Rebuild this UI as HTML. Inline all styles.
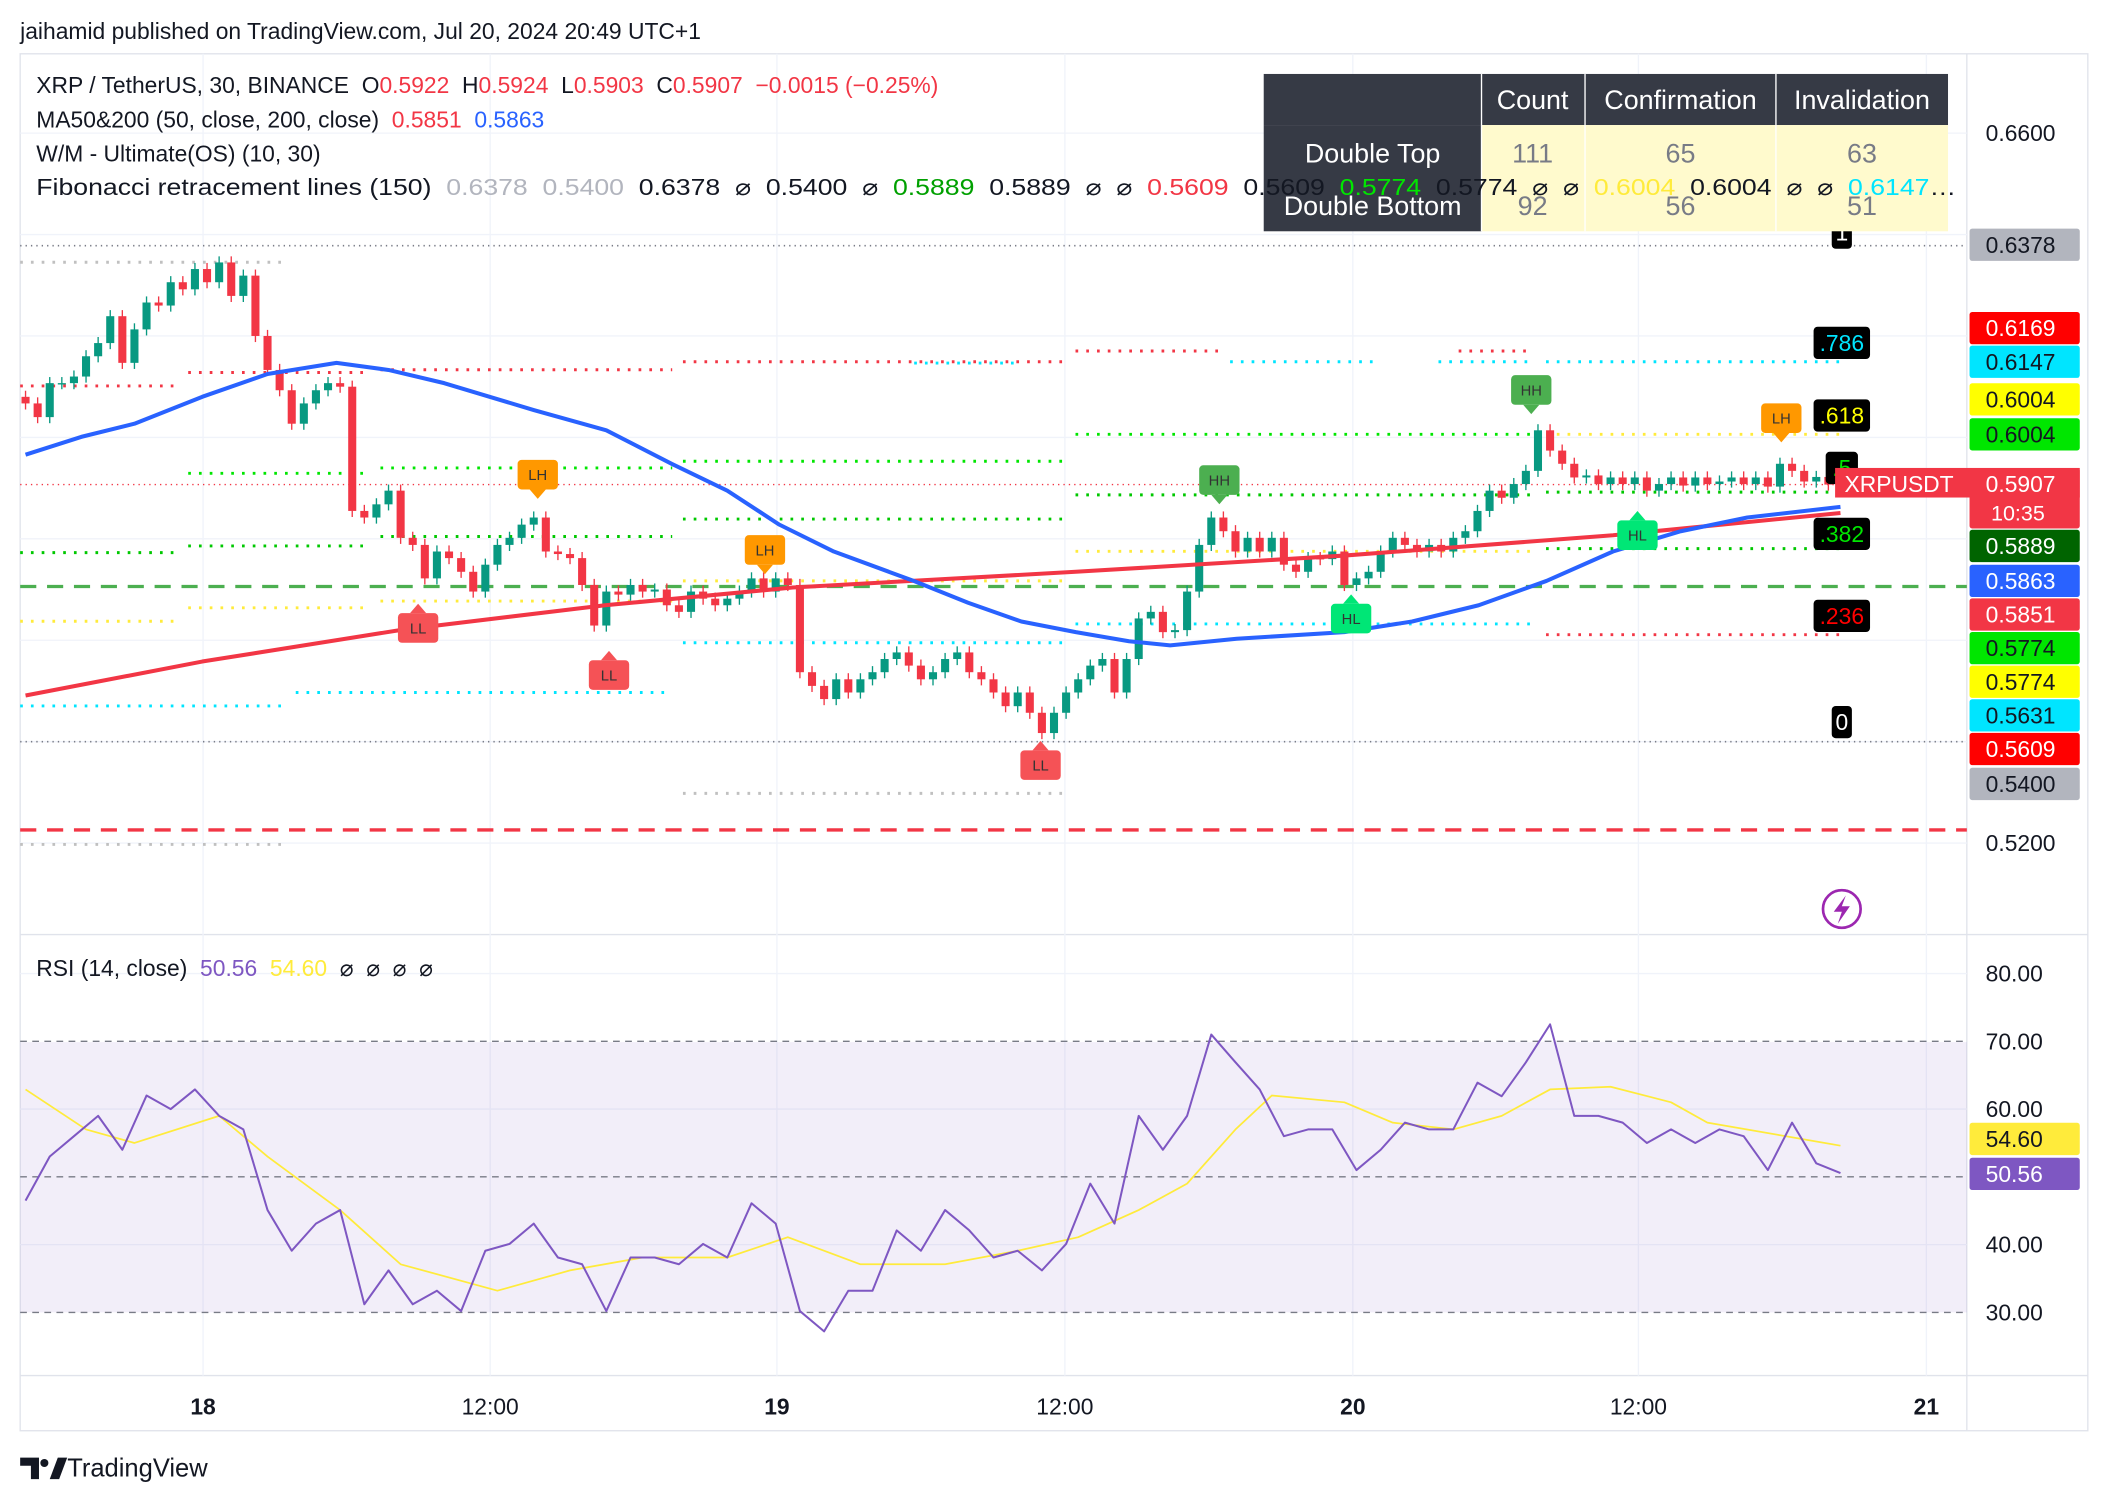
<!DOCTYPE html>
<html><head><meta charset="utf-8"><style>
html,body{margin:0;padding:0;background:#fff;}
svg{display:block;font-family:"Liberation Sans",sans-serif;}
</style></head><body>
<svg id="chart" width="2108" height="1502" viewBox="0 0 1568 1117" preserveAspectRatio="none" xmlns="http://www.w3.org/2000/svg">
<rect x="0" y="0" width="1568" height="1117" fill="#fff"/>
<text x="15" y="29" font-size="17" fill="#131722">jaihamid published on TradingView.com, Jul 20, 2024 20:49 UTC+1</text>
<rect x="15" y="40" width="1538" height="1024" fill="none" stroke="#e0e3eb"/>
<line x1="1463" y1="40" x2="1463" y2="1064" stroke="#e0e3eb"/>
<line x1="15" y1="695" x2="1553" y2="695" stroke="#e0e3eb"/>
<line x1="15" y1="1023" x2="1553" y2="1023" stroke="#e0e3eb"/>
<g id="grid"></g>
<rect x="15" y="775" width="1448" height="201" fill="#7e57c2" fill-opacity="0.1"/>
<g id="fib"></g>
<g id="hlines"></g>
<g id="candles"></g>
<g id="mas"></g>
<g id="rsi"></g>
<g id="markers"></g>
<g id="axis"></g>
<g font-size="20">
<rect x="940" y="55" width="509" height="38" fill="#363a45"/>
<rect x="940" y="93" width="162" height="79" fill="#363a45"/>
<rect x="1102" y="93" width="347" height="79" fill="#fffacd"/>
<line x1="1102" y1="55" x2="1102" y2="172" stroke="#fff"/>
<line x1="1179" y1="55" x2="1179" y2="172" stroke="#fff"/>
<line x1="1321" y1="55" x2="1321" y2="172" stroke="#fff"/>
<text x="1140" y="81" fill="#fff" text-anchor="middle">Count</text>
<text x="1250" y="81" fill="#fff" text-anchor="middle">Confirmation</text>
<text x="1385" y="81" fill="#fff" text-anchor="middle">Invalidation</text>
<text x="1021" y="121" fill="#fff" text-anchor="middle">Double Top</text>
<text x="1021" y="160" fill="#fff" text-anchor="middle">Double Bottom</text>
<text x="1140" y="121" fill="#787b86" text-anchor="middle">111</text>
<text x="1250" y="121" fill="#787b86" text-anchor="middle">65</text>
<text x="1385" y="121" fill="#787b86" text-anchor="middle">63</text>
<text x="1140" y="160" fill="#787b86" text-anchor="middle">92</text>
<text x="1250" y="160" fill="#787b86" text-anchor="middle">56</text>
<text x="1385" y="160" fill="#787b86" text-anchor="middle">51</text>
</g>
<g font-size="17" fill="#131722">
<text x="27" y="69" xml:space="preserve">XRP / TetherUS, 30, BINANCE  O<tspan fill="#f23645">0.5922</tspan>  H<tspan fill="#f23645">0.5924</tspan>  L<tspan fill="#f23645">0.5903</tspan>  C<tspan fill="#f23645">0.5907</tspan>  <tspan fill="#f23645">−0.0015 (−0.25%)</tspan></text>
<text x="27" y="95" xml:space="preserve">MA50&amp;200 (50, close, 200, close)  <tspan fill="#f23645">0.5851</tspan>  <tspan fill="#2962ff">0.5863</tspan></text>
<text x="27" y="120">W/M - Ultimate(OS) (10, 30)</text>
<text x="27" y="145" textLength="1428" lengthAdjust="spacingAndGlyphs" xml:space="preserve">Fibonacci retracement lines (150)  <tspan fill="#b2b5be">0.6378  0.5400</tspan>  0.6378  ⌀  0.5400  ⌀  <tspan fill="#00a000">0.5889</tspan>  0.5889  ⌀  ⌀  <tspan fill="#f23645">0.5609</tspan>  0.5609  <tspan fill="#00e600">0.5774</tspan>  0.5774  ⌀  ⌀  <tspan fill="#ffeb3b">0.6004</tspan>  0.6004  ⌀  ⌀  <tspan fill="#00e5ff">0.6147</tspan>…</text>
<text x="27" y="726" xml:space="preserve">RSI (14, close)  <tspan fill="#7e57c2">50.56</tspan>  <tspan fill="#ffeb3b">54.60</tspan>  ⌀  ⌀  ⌀  ⌀</text>
</g>
<g><circle cx="1370" cy="676" r="14" fill="none" stroke="#9c27b0" stroke-width="2"/><path d="M1373 666 L1364 678 L1370 678 L1367 687 L1376 674 L1370 674 Z" fill="#9c27b0"/></g>
<g><path d="M15 1084 h14 v16 h-6 v-10 h-8z" fill="#131722"/><circle cx="33" cy="1088" r="3" fill="#131722"/><path d="M37 1100 l6 -16 h7 l-6 16z" fill="#131722"/><text x="50" y="1098" font-size="19" fill="#131722">TradingView</text></g>
<script>
const closes=[.6067,.6040,.6107,.6107,.6120,.6160,.6186,.6239,.6147,.6213,.6266,.6260,.6306,.6292,.6332,.6306,.6345,.6279,.6319,.6200,.6133,.6093,.6027,.6067,.6093,.6107,.6100,.5855,.5842,.5868,.5895,.5802,.5788,.5722,.5775,.5762,.5735,.5696,.5749,.5788,.5802,.5828,.5842,.5775,.5770,.5762,.5709,.5629,.5696,.5690,.5709,.5696,.5700,.5669,.5656,.5696,.5682,.5669,.5682,.5696,.5722,.5696,.5722,.5709,.5537,.5510,.5484,.5523,.5497,.5523,.5537,.5563,.5576,.5550,.5523,.5537,.5563,.5576,.5537,.5523,.5497,.5470,.5497,.5457,.5417,.5457,.5497,.5523,.5550,.5563,.5497,.5563,.5643,.5656,.5616,.5620,.5696,.5788,.5842,.5815,.5775,.5802,.5775,.5802,.5749,.5735,.5762,.5760,.5775,.5709,.5722,.5735,.5775,.5802,.5788,.5775,.5788,.5775,.5802,.5815,.5855,.5895,.5881,.5908,.5934,.6014,.5974,.5948,.5921,.5925,.5908,.5921,.5908,.5921,.5895,.5908,.5921,.5905,.5921,.5908,.5913,.5921,.5908,.5921,.5903,.5948,.5934,.5913,.5922,.5907];
const firstOpen=0.6080;
const ma200Idx=[0,14.6,31.2,47.9,63.4,86.8,109,131.2,150];
const ma200Val=[0.5491,0.5558,0.5621,0.5669,0.5704,0.5735,0.5767,0.5807,0.5851];
const ma50Idx=[0,4.6,9,14.6,20,25.7,30,34.6,42,48,53.4,58,62.3,66.8,73.4,77.9,82.3,86.8,91.2,94.6,100.1,109,114.6,120.1,125.7,131.2,136.8,142.3,150];
const ma50Val=[0.5966,0.6001,0.6027,0.6080,0.6125,0.6147,0.6133,0.6107,0.6054,0.6014,0.5948,0.5895,0.5828,0.5775,0.5717,0.5674,0.5637,0.5616,0.5598,0.5590,0.5603,0.5616,0.5637,0.5669,0.5717,0.5775,0.5815,0.5842,0.5863];
const rsiVals=[46.5,53,56,59,54,62,60,62.9,59,57,45.1,39.1,43.1,45.1,31.2,36.2,31.2,33.2,30.2,39.1,40.1,43.1,38.1,37.1,30.2,38.1,38.1,37.1,40.1,38.1,46.1,43.1,30.2,27.2,33.2,33.2,42.1,39.1,45.1,42.1,38.1,39.1,36.2,40.1,49,43.1,59,54,59,71,66.9,62.9,56,57,57,51,54,58,57,57,63.9,61.9,66.9,72.5,59,59,58,55,57,55,57,56,51,58,52,50.56];
const rsiMaIdx=[0,5,9,16,20,26,31,39,45,51,58,63,69,76,82,87,92,96,100,103,109,113,118,122,126,131,136,139,150];
const rsiMaVal=[62.9,57,55,59,53,45.1,37.1,33.2,36.2,38.1,38.1,41.1,37.1,37.1,39.1,41.1,45.1,49,57,62,61,58,57,59,62.9,63.3,61,58,54.6];
const priceTicks=[0.66,0.52];
const gridPrices=[0.66,0.64,0.62,0.60,0.58,0.56,0.54,0.52];
const rsiTicks=[80,70,60,40,30];
const timeLabels=["18","12:00","19","12:00","20","12:00","21"];
const timeIdx=[14.67,38.4,62.1,85.9,109.7,133.3,157.1];
const axisLabels=[["0.6378",0.6378,"#b2b5be","#131722"],["0.6169",0.6169,"#ff0000","#fff"],["0.6147",0.6147,"#00e5ff","#131722"],["0.6004",0.6004,"#ffff00","#131722"],["0.6004",0.6004,"#00e600","#131722"],["0.5889",0.5889,"#006400","#fff"],["0.5863",0.5863,"#2962ff","#fff"],["0.5851",0.5851,"#f23645","#fff"],["0.5774",0.5774,"#00e600","#131722"],["0.5774",0.5774,"#ffff00","#131722"],["0.5631",0.5631,"#00e5ff","#131722"],["0.5609",0.5609,"#ff0000","#fff"],["0.5400",0.5400,"#b2b5be","#131722"]];
const axisSlots=[182,244,269,297,323,406,432,457,482,507,532,557,583];
const NS="http://www.w3.org/2000/svg";
function xOf(i){return 19+i*9.0;}
function yP(p){return 99+(0.66-p)*3771.4;}
function yR(r){return 724+(80-r)*5.04;}
function mk(parent,tag,attrs){const e=document.createElementNS(NS,tag);for(const k in attrs)e.setAttribute(k,attrs[k]);document.getElementById(parent).appendChild(e);return e;}
gridPrices.forEach(p=>{const l=mk('grid','line',{x1:15,x2:1463,y1:yP(p),y2:yP(p),stroke:'#f0f3fa'});

});
[80,60,40].forEach(r=>{const l=mk('grid','line',{x1:15,x2:1463,y1:yR(r),y2:yR(r),stroke:'#f0f3fa'});

});
timeIdx.forEach(t=>{const x=xOf(t);const l=mk('grid','line',{x1:x,x2:x,y1:40,y2:1023,stroke:'#f0f3fa'});

});
const fibSegs=[[140,270,277,'#f23645'],[283,500,275,'#f23645'],[508,790,269,'#f23645'],[800,910,261,'#f23645'],[1085,1140,261,'#f23645'],[1150,1370,472,'#f23645'],[680,760,270,'#00e5ff'],[915,1025,269,'#00e5ff'],[1070,1140,269,'#00e5ff'],[1150,1370,269,'#00e5ff'],[140,270,352,'#00e600'],[283,500,348,'#00e600'],[508,790,343,'#00e600'],[800,1140,323,'#00e600'],[1150,1370,323,'#ffeb3b'],[15,130,411,'#00c800'],[140,270,406,'#00c800'],[283,500,399,'#00c800'],[508,790,386,'#00c800'],[800,1140,368,'#00c800'],[1150,1370,366,'#00c800'],[15,130,462,'#ffeb3b'],[140,270,452,'#ffeb3b'],[283,500,447,'#ffeb3b'],[508,790,432,'#ffeb3b'],[800,1140,410,'#ffeb3b'],[1150,1370,408,'#00c800'],[15,210,525,'#00e5ff'],[220,500,515,'#00e5ff'],[508,790,478,'#00e5ff'],[800,1140,464,'#00e5ff'],[15,210,195,'#c0c0c0'],[15,210,628,'#c0c0c0'],[508,790,590,'#c0c0c0'],[15,130,287,'#f23645']];
fibSegs.forEach(s=>{const l=mk('fib','line',{x1:s[0],x2:s[1],y1:s[2],y2:s[2],stroke:s[3],'stroke-width':2.2,'stroke-dasharray':'2 6'});

});
[[0.6378,'#787b86','1 3',1.2],[0.54,'#787b86','1 3',1.2],[0.5706,'#4caf50','12 8',2.5],[0.5226,'#f23645','12 8',2.5],[0.5907,'#f23645','1 3',1]].forEach(h=>{const l=mk('hlines','line',{x1:15,x2:1463,y1:yP(h[0]),y2:yP(h[0]),stroke:h[1],'stroke-dasharray':h[2],'stroke-width':h[3]});

});
closes.forEach((c,i)=>{const o=i?closes[i-1]:firstOpen;const col=c>=o?'#089981':'#f23645';const x=xOf(i);
const hi=Math.max(o,c)+0.0012,lo=Math.min(o,c)-0.0012;
const w=mk('candles','line',{x1:x,x2:x,y1:yP(hi),y2:yP(lo),stroke:col,'stroke-width':1});


const top=yP(Math.max(o,c)),bh=Math.max(1,yP(Math.min(o,c))-top);
const b=mk('candles','rect',{x:x-3,y:top,width:6,height:bh,fill:col});

});
function poly(g,idx,vals,yf,col,w,name){const pts=idx.map((ix,k)=>xOf(ix)+','+yf(vals[k])).join(' ');const p=mk(g,'polyline',{points:pts,fill:'none',stroke:col,'stroke-width':w,'stroke-linejoin':'round'});

}
poly('mas',ma200Idx,ma200Val,yP,'#f23645',3,'ma200-line');
poly('mas',ma50Idx,ma50Val,yP,'#2962ff',3,'ma50-line');
[70,50,30].forEach(r=>{const l=mk('rsi','line',{x1:15,x2:1463,y1:yR(r),y2:yR(r),stroke:'#787b86','stroke-dasharray':'5 4'});

});
poly('rsi',rsiMaIdx,rsiMaVal,yR,'#ffeb3b',1.3,'rsi-ma-line');
poly('rsi',rsiVals.map((v,k)=>k*2),rsiVals,yR,'#7e57c2',1.5,'rsi-line');
const markers=[[400,353,'LH','#ff9800',1],[569,409,'LH','#ff9800',1],[1325,311,'LH','#ff9800',1],[311,467,'LL','#f55256',0],[453,502,'LL','#f55256',0],[774,569,'LL','#f55256',0],[907,357,'HH','#4caf50',1],[1139,290,'HH','#4caf50',1],[1005,460,'HL','#00e676',0],[1218,398,'HL','#00e676',0]];
markers.forEach(m=>{const g=mk('markers','g',{});


const r=document.createElementNS(NS,'rect');r.setAttribute('x',m[0]-15);r.setAttribute('y',m[1]-11);r.setAttribute('width',30);r.setAttribute('height',22);r.setAttribute('rx',3);r.setAttribute('fill',m[3]);g.appendChild(r);
const t=document.createElementNS(NS,'polygon');const ty=m[4]?m[1]+11:m[1]-11,tt=m[4]?ty+7:ty-7;t.setAttribute('points',(m[0]-6)+','+ty+' '+(m[0]+6)+','+ty+' '+m[0]+','+tt);t.setAttribute('fill',m[3]);g.appendChild(t);
const tx=document.createElementNS(NS,'text');tx.setAttribute('x',m[0]);tx.setAttribute('y',m[1]+4);tx.setAttribute('font-size',11);tx.setAttribute('text-anchor','middle');tx.setAttribute('fill','#333');tx.textContent=m[2];g.appendChild(tx);});
[[255,'.786','#00e5ff'],[309,'.618','#ffff00'],[348,'.5','#00e600'],[397,'.382','#00e600'],[458,'.236','#ff0000'],[537,'0','#fff'],[173,'1','#fff']].forEach(f=>{
const w=f[1].length*9+6;const r=mk('markers','rect',{x:1370-w/2,y:f[0]-12,width:w,height:24,rx:3,fill:'#000'});


const t=mk('markers','text',{x:1370,y:f[0]+6,'font-size':17,'text-anchor':'middle',fill:f[2]});t.textContent=f[1];});
priceTicks.forEach(p=>{const t=mk('axis','text',{x:1477,y:yP(p)+6,'font-size':17,fill:'#131722'});


t.textContent=p.toFixed(4);});
axisLabels.forEach((a,k)=>{const y=axisSlots[k];const r=mk('axis','rect',{x:1465,y:y-12,width:82,height:24,rx:2,fill:a[2]});


const t=mk('axis','text',{x:1477,y:y+6,'font-size':17,fill:a[3]});t.textContent=a[0];});
const cur=mk('axis','rect',{x:1365,y:348,width:182,height:22,fill:'#f23645'});


mk('axis','rect',{x:1465,y:348,width:82,height:45,rx:2,fill:'#f23645'});
const st=mk('axis','text',{x:1372,y:366,'font-size':17,fill:'#fff'});st.textContent='XRPUSDT';
const s1=mk('axis','text',{x:1477,y:366,'font-size':17,fill:'#fff'});s1.textContent='0.5907';
const s2=mk('axis','text',{x:1481,y:387,'font-size':16,fill:'#fff'});s2.textContent='10:35';
rsiTicks.forEach(r=>{const t=mk('axis','text',{x:1477,y:yR(r)+6,'font-size':17,fill:'#131722'});


t.textContent=r.toFixed(2);});
[[54.60,'#ffeb3b','#131722',847],[50.56,'#7e57c2','#fff',873]].forEach(a=>{const r=mk('axis','rect',{x:1465,y:a[3]-12,width:82,height:24,rx:2,fill:a[1]});


const t=mk('axis','text',{x:1477,y:a[3]+6,'font-size':17,fill:a[2]});t.textContent=a[0].toFixed(2);});
timeLabels.forEach((l,k)=>{const bold=l.indexOf(':')<0;const t=mk('axis','text',{x:xOf(timeIdx[k]),y:1052,'font-size':17,'text-anchor':'middle',fill:'#131722','font-weight':bold?'bold':'normal'});


t.textContent=l;});
</script>
</svg>
</body></html>
